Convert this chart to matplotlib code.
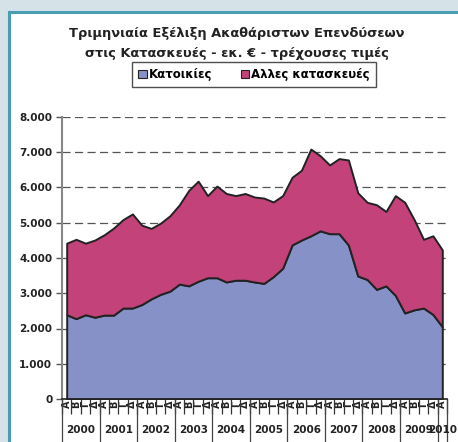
import numpy as np
import matplotlib
matplotlib.use('Agg')
import matplotlib.pyplot as plt
from matplotlib.patches import Rectangle

# Quarterly data 2000Q1 - 2010Q1 (million EUR, current prices)
years = ['2000', '2001', '2002', '2003', '2004', '2005', '2006', '2007', '2008', '2009', '2010']
quarters = ['Α', 'Β', 'Γ', 'Δ']

housing = [2390, 2280, 2390, 2320, 2380, 2380, 2580, 2580, 2680, 2840,
           2970, 3060, 3260, 3210, 3340, 3440, 3440, 3320, 3370, 3370,
           3320, 3280, 3470, 3710, 4370, 4510, 4630, 4770, 4690, 4690,
           4370, 3490, 3390, 3110, 3210, 2940, 2440, 2530, 2580, 2400,
           2050]
other = [2030, 2250, 2030, 2190, 2280, 2470, 2510, 2670, 2250, 2000,
         2020, 2140, 2250, 2710, 2840, 2330, 2600, 2510, 2400, 2460,
         2410, 2420, 2120, 2060, 1920, 1980, 2460, 2130, 1950, 2130,
         2410, 2360, 2190, 2400, 2110, 2830, 3140, 2560, 1950, 2230,
         2180]

labels_series = ['Κατοικίες', 'Αλλες κατασκευές']
col_housing = '#8591c7'
col_other = '#c24279'

n = len(housing)
x = np.arange(n)
housing = np.array(housing)
total = housing + np.array(other)

fig = plt.figure(figsize=(4.58, 4.42), dpi=100)
fig.patch.set_facecolor('#d5e2e8')
# white panel with teal border
panel = Rectangle((8.5 / 458, -0.01), 1.0, 1 - 11.5 / 442 + 0.01,
                  transform=fig.transFigure, facecolor='white',
                  edgecolor='#4a9cb1', linewidth=2.2, zorder=-10)
fig.patches.append(panel)

ax = fig.add_axes([62 / 458, 1 - 399 / 442, (447 - 62) / 458, (399 - 117) / 442])
ax.set_facecolor('none')

ax.fill_between(x, 0, housing, facecolor=col_housing, edgecolor='#222222',
                linewidth=1.4, zorder=2, label=labels_series[0])
ax.fill_between(x, housing, total, facecolor=col_other, edgecolor='#222222',
                linewidth=1.4, zorder=2, label=labels_series[1])

ax.set_xlim(-0.5, n - 0.5)
ax.set_ylim(0, 8000)

# y axis
ax.set_yticks(np.arange(0, 8001, 1000))
ax.set_yticklabels(['{:,}'.format(v).replace(',', '.') for v in range(0, 8001, 1000)],
                   fontsize=7.5, fontweight='bold', color='#222222')
ax.tick_params(axis='y', length=4, width=1, color='#555555', pad=3)
for v in range(1000, 8001, 1000):
    ax.axhline(v, color='#555555', linewidth=0.9, dashes=(6.5, 3.5), zorder=1)

# x axis: quarter letters + separators
ax.set_xticks(x)
ax.set_xticklabels([quarters[i % 4] for i in range(n)], rotation=90,
                   fontsize=7, fontweight='bold', color='#222222')
ax.tick_params(axis='x', which='major', length=0, pad=1)
ax.set_xticks(np.arange(-0.5, n, 1), minor=True)
ax.tick_params(axis='x', which='minor', length=11, width=0.9, color='#333333')

trans = ax.get_xaxis_transform()
for b in list(np.arange(-0.5, n, 4)) + [n - 0.5]:
    ax.plot([b, b], [0, -0.16], transform=trans, color='#444444',
            linewidth=0.9, clip_on=False)
for k, yr in enumerate(years):
    first = 4 * k
    last = min(4 * k + 3, n - 1)
    ax.text((first + last) / 2, -0.11, yr, transform=trans, ha='center', va='center',
            fontsize=7.5, fontweight='bold', color='#222222')

for side in ['top', 'right']:
    ax.spines[side].set_visible(False)
ax.spines['left'].set_color('#888888')
ax.spines['left'].set_linewidth(1.5)
ax.spines['left'].set_zorder(3)
ax.spines['bottom'].set_color('#222222')
ax.spines['bottom'].set_linewidth(1.2)
ax.spines['bottom'].set_zorder(3)

fig.text(237 / 458, 1 - 34 / 442, 'Τριμηνιαία Εξέλιξη Ακαθάριστων Επενδύσεων',
         ha='center', va='center', fontsize=9.4, fontweight='bold', color='#222222')
fig.text(237 / 458, 1 - 53 / 442, 'στις Κατασκευές - εκ. € - τρέχουσες τιμές',
         ha='center', va='center', fontsize=9.4, fontweight='bold', color='#222222')

leg = fig.legend(loc='center', bbox_to_anchor=(254 / 458, 1 - 74.5 / 442), ncol=2,
                 prop={'size': 8.5, 'weight': 'bold'}, frameon=True, fancybox=False,
                 handlelength=0.7, handleheight=0.7, handletextpad=0.2,
                 columnspacing=2.4, borderpad=0.5, borderaxespad=0)
leg.get_frame().set_edgecolor('#222222')
leg.get_frame().set_linewidth(1.0)
for h in leg.legend_handles:
    h.set_edgecolor('#222222')
    h.set_linewidth(0.8)

fig.savefig('out.png', dpi=100, facecolor=fig.get_facecolor())
